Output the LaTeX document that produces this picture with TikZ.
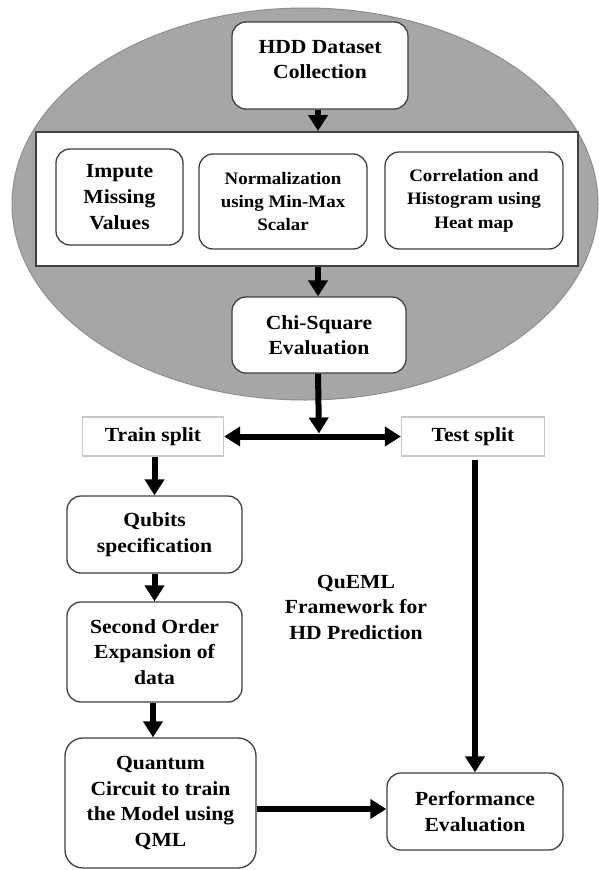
\documentclass[tikz,border=0pt]{standalone}
\usepackage{fontspec}
\setmainfont[FakeStretch=1.08]{Liberation Serif}
\usetikzlibrary{arrows.meta}
\definecolor{ellfill}{HTML}{A6A6A6}
\definecolor{ellline}{HTML}{8E8E8E}
\definecolor{boxline}{HTML}{404040}
\definecolor{splitline}{HTML}{C8C8C8}
\tikzset{
  txt/.style={align=center,font=\bfseries\fontsize{20}{25.5}\selectfont,text=black},
  smalltxt/.style={font=\bfseries\fontsize{17.5}{23.3}\selectfont},
  rbox/.style={txt,draw=boxline,line width=1.3pt,fill=white,rounded corners=14pt,inner sep=0pt},
  outerbox/.style={draw=boxline,line width=2pt,fill=white,inner sep=0pt},
  splitbox/.style={txt,draw=splitline,line width=1.3pt,fill=white,inner sep=0pt},
  arr/.style={line width=6pt,-{Triangle[length=16pt,width=19pt]}},
}
\begin{document}
\begin{tikzpicture}[x=1pt,y=-1pt]
\useasboundingbox (0,0) rectangle (599,870);
\fill[white] (0,0) rectangle (599,870);
% ellipse background
\draw[fill=ellfill,draw=ellline,line width=1pt] (305,204) ellipse [x radius=293,y radius=196];
% top cluster
\node[rbox,minimum width=176pt,minimum height=87pt,
  label={[txt,yshift=6pt]center:HDD Dataset\\Collection}] (hdd) at (320,65.5) {};
\node[outerbox,minimum width=542pt,minimum height=134pt] (big) at (307,199) {};
\node[rbox,minimum width=127pt,minimum height=96pt,font=\bfseries\fontsize{20}{26}\selectfont] (imp) at (119.5,197) {Impute\\Missing\\Values};
\node[rbox,smalltxt,minimum width=168pt,minimum height=95pt] (norm) at (283,201.5) {Normalization\\using Min-Max\\Scalar};
\node[rbox,smalltxt,minimum width=178pt,minimum height=97pt] (corr) at (474,200.5) {Correlation and\\Histogram using\\Heat map};
\node[rbox,minimum width=174pt,minimum height=76pt] (chi) at (319,335) {Chi-Square\\Evaluation};
% split
\node[splitbox,minimum width=141pt,minimum height=39pt] (train) at (153,436.5) {Train split};
\node[splitbox,minimum width=143pt,minimum height=39pt] (test) at (473,436.5) {Test split};
\coordinate (j) at (chi.south |- train.east);
% left column
\node[rbox,minimum width=175pt,minimum height=77pt] (qub) at (154.5,534.5) {Qubits\\specification};
\node[rbox,minimum width=175pt,minimum height=100pt] (sec) at (154.5,652) {Second Order\\Expansion of\\data};
\node[rbox,minimum width=191pt,minimum height=130pt,rounded corners=18pt] (qua) at (160.5,803) {Quantum\\Circuit to train\\the Model using\\QML};
\node[rbox,minimum width=176pt,minimum height=77pt] (perf) at (475,811.5) {Performance\\Evaluation};
\node[txt] (lbl) at (356,607) {QuEML\\Framework for\\HD Prediction};
% connectors
\draw[arr] (hdd.south -| 318,0) -- (big.north -| 318,0);
\draw[arr] (big.south -| 318,0) -- (chi.north -| 318,0);
\draw[arr,shorten >=3pt] (chi.south -| 318,0) -- (j);
\draw[arr] (j) -- (train.east);
\draw[arr] (j) -- (test.west);
\draw[arr] (train.south -| qub.north) -- (qub.north);
\draw[arr] (qub.south) -- (sec.north);
\draw[arr] (sec.south -| 153,0) -- (qua.north -| 153,0);
\draw[arr,shorten <=3pt] (test.south -| perf.north) -- (perf.north);
\draw[arr] (qua.east |- 0,809) -- (perf.west |- 0,809);
\end{tikzpicture}
\end{document}
